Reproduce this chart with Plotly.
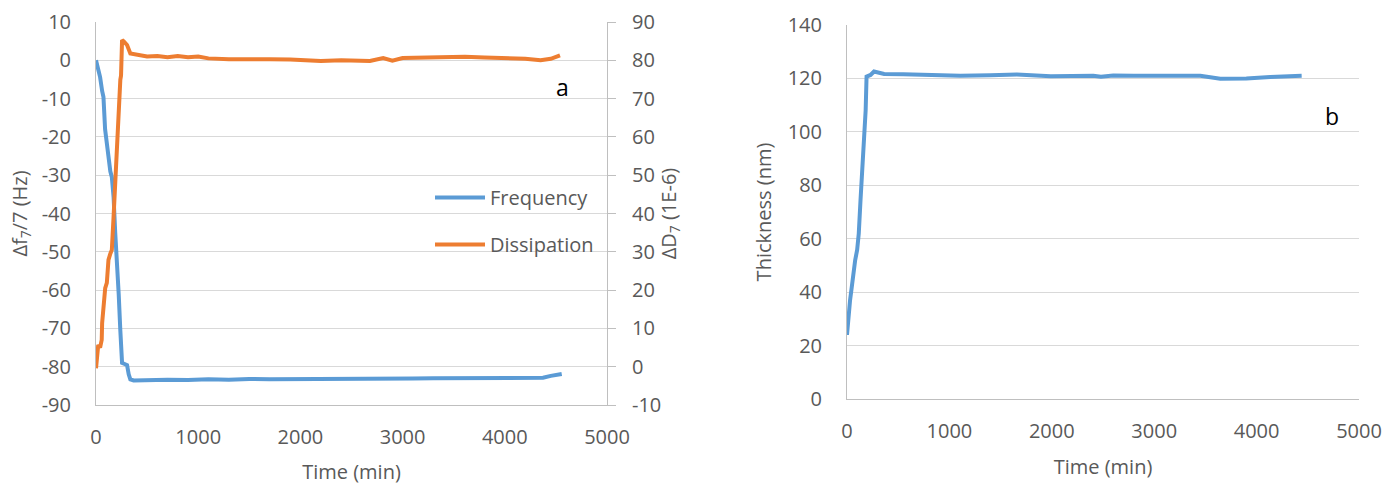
import plotly.graph_objects as go

# ---- Data ----
freq_time = [0, 20, 40, 60, 73, 89, 105, 122, 140, 155, 172, 188, 205, 222, 238, 255, 280, 304, 320, 336,
             369, 500, 700, 900, 1100, 1300, 1500, 1700, 1900, 2100, 2300, 2515, 2700, 2900, 3100, 3300,
             3500, 3700, 3900, 4100, 4374, 4450, 4557]
freq_vals = [0, -2, -4.4, -8, -9.6, -18, -22, -26, -29, -30.5, -35.7, -45, -52, -61, -70.5, -79, -79.3, -79.6,
             -82, -83.3, -83.6, -83.5, -83.4, -83.5, -83.3, -83.4, -83.2, -83.3, -83.3, -83.2, -83.2, -83.3,
             -83.1, -83.1, -83.1, -83.0, -83.0, -83.0, -82.9, -82.9, -82.9, -82.4, -81.9]

diss_time = [0, 10, 22, 40, 56, 60, 79, 90, 106, 122, 140, 155, 172, 188, 205, 222, 238, 245, 255, 272, 290,
             304, 336, 403, 500, 600, 700, 800, 900, 1000, 1100, 1300, 1500, 1700, 1900, 2100, 2200, 2400,
             2600, 2680, 2810, 2900, 3000, 3200, 3400, 3610, 3800, 4000, 4200, 4350, 4450, 4540]
diss_vals = [-0.4, 3, 5.7, 5, 7, 11.4, 19.2, 20.5, 21.9, 27.9, 29.5, 30.5, 39.2, 48.7, 57.4, 66.2, 74.9, 76,
             85.3, 84.9, 84.5, 84, 81.8, 81.4, 81.0, 81.1, 80.8, 81.1, 80.8, 81.0, 80.5, 80.3, 80.4, 80.3,
             80.2, 79.9, 79.8, 80.0, 80.0, 79.8, 80.6, 79.9, 80.6, 80.7, 80.7, 80.9, 80.7, 80.6, 80.4, 80.0,
             80.4, 81.3]

thick_time = [0, 16, 30, 50, 66, 80, 99, 115, 132, 149, 165, 182, 191, 210, 230, 264, 300, 363, 549, 800,
              1106, 1400, 1659, 1990, 2200, 2405, 2480, 2600, 2800, 3000, 3200, 3450, 3645, 3900, 4133, 4440]
thick_vals = [24, 33, 37, 43, 49.6, 52, 55.8, 62, 74.5, 84.6, 98, 108, 120.7, 121, 121.3, 122.6, 122.2,
              121.7, 121.6, 121.3, 121, 121.2, 121.5, 120.8, 121, 121, 120.6, 121.1, 121, 121, 121, 121,
              119.9, 120, 120.5, 121]

x_ticks = [0, 1000, 2000, 3000, 4000, 5000]
freq_ticks = [10, 0, -10, -20, -30, -40, -50, -60, -70, -80, -90]
diss_ticks = [90, 80, 70, 60, 50, 40, 30, 20, 10, 0, -10]
thick_ticks = [0, 20, 40, 60, 80, 100, 120, 140]

# ---- Styling ----
BLUE = "#5B9BD5"
ORANGE = "#ED7D31"
TXT = "#595959"
GRID = "#D9D9D9"
AXIS = "#BFBFBF"
FONT = "Open Sans"
FS = 20

W, H = 1392, 491


def px_x(a, b):
    return [a / W, b / W]


def px_y(top, bottom):
    return [(H - bottom) / H, (H - top) / H]


def tf():
    return dict(family=FONT, size=FS, color=TXT)


fig = go.Figure()

fig.add_trace(go.Scatter(x=freq_time, y=freq_vals, mode="lines", name="Frequency",
                         line=dict(color=BLUE, width=4), xaxis="x", yaxis="y",
                         legendgroup="f"))
fig.add_trace(go.Scatter(x=diss_time, y=diss_vals, mode="lines", name="Dissipation",
                         line=dict(color=ORANGE, width=4), xaxis="x", yaxis="y2",
                         legendgroup="d"))
fig.add_trace(go.Scatter(x=thick_time, y=thick_vals, mode="lines", name="Thickness",
                         line=dict(color=BLUE, width=4), xaxis="x2", yaxis="y3",
                         showlegend=False))

common_x = dict(range=[0, 5000], tickvals=x_ticks, ticktext=[str(v) for v in x_ticks],
                showgrid=False, showline=True, automargin=False,
                linecolor=AXIS, linewidth=1, ticks="", zeroline=False,
                tickfont=tf())

fig.update_layout(
    width=W, height=H,
    margin=dict(l=0, r=0, t=0, b=0),
    paper_bgcolor="white", plot_bgcolor="white",
    font=tf(),
    xaxis=dict(domain=px_x(96, 607), anchor="y", ticklabelstandoff=14,
               title=dict(text="Time (min)", font=tf(), standoff=15),
               **common_x),
    xaxis2=dict(domain=px_x(847, 1359), anchor="y3", ticklabelstandoff=14,
                title=dict(text="Time (min)", font=tf(), standoff=16),
                **common_x),
    yaxis=dict(domain=px_y(22, 405), anchor="x", range=[-90, 10],
               tickvals=freq_ticks, ticktext=[str(v) for v in freq_ticks],
               showgrid=True, gridcolor=GRID, gridwidth=1.3, zeroline=False,
               showline=True, linecolor=AXIS, ticks="", automargin=False,
               tickfont=tf(), ticklabelstandoff=20,
               title=dict(text="Δf<sub>7</sub>/7 (Hz)", font=tf(), standoff=8)),
    yaxis2=dict(domain=px_y(22, 405), anchor="x", overlaying="y", side="right",
                range=[-10, 90], tickvals=diss_ticks, ticktext=[str(v) for v in diss_ticks],
                showgrid=False, zeroline=False, automargin=False,
                showline=True, linecolor=AXIS, ticks="outside", ticklen=8, tickcolor=AXIS,
                tickfont=tf(), ticklabelstandoff=12,
                title=dict(text="ΔD<sub>7</sub> (1E-6)", font=tf(), standoff=0)),
    yaxis3=dict(domain=px_y(25, 399), anchor="x2", range=[0, 140],
                tickvals=thick_ticks, ticktext=[str(v) for v in thick_ticks],
                showgrid=True, gridcolor=GRID, gridwidth=1.3, zeroline=False,
                showline=True, linecolor=AXIS, ticks="", automargin=False,
                tickfont=tf(), ticklabelstandoff=20,
                title=dict(text="Thickness (nm)", font=tf(), standoff=10)),
    legend=dict(x=430 / W, y=1 - 178 / H, xanchor="left", yanchor="top",
                bgcolor="rgba(0,0,0,0)", font=tf(),
                traceorder="grouped", tracegroupgap=18, itemwidth=50),
    showlegend=True,
)

fig.add_annotation(x=4560, y=-7, xref="x", yref="y", text="a", showarrow=False,
                   font=dict(family=FONT, size=23, color="black"))
fig.add_annotation(x=4741, y=106, xref="x2", yref="y3", text="b", showarrow=False,
                   font=dict(family=FONT, size=23, color="black"))

fig.write_html("out.html", config={"displayModeBar": False},
               post_script="document.body.style.margin='0px';document.body.style.overflow='hidden';")
